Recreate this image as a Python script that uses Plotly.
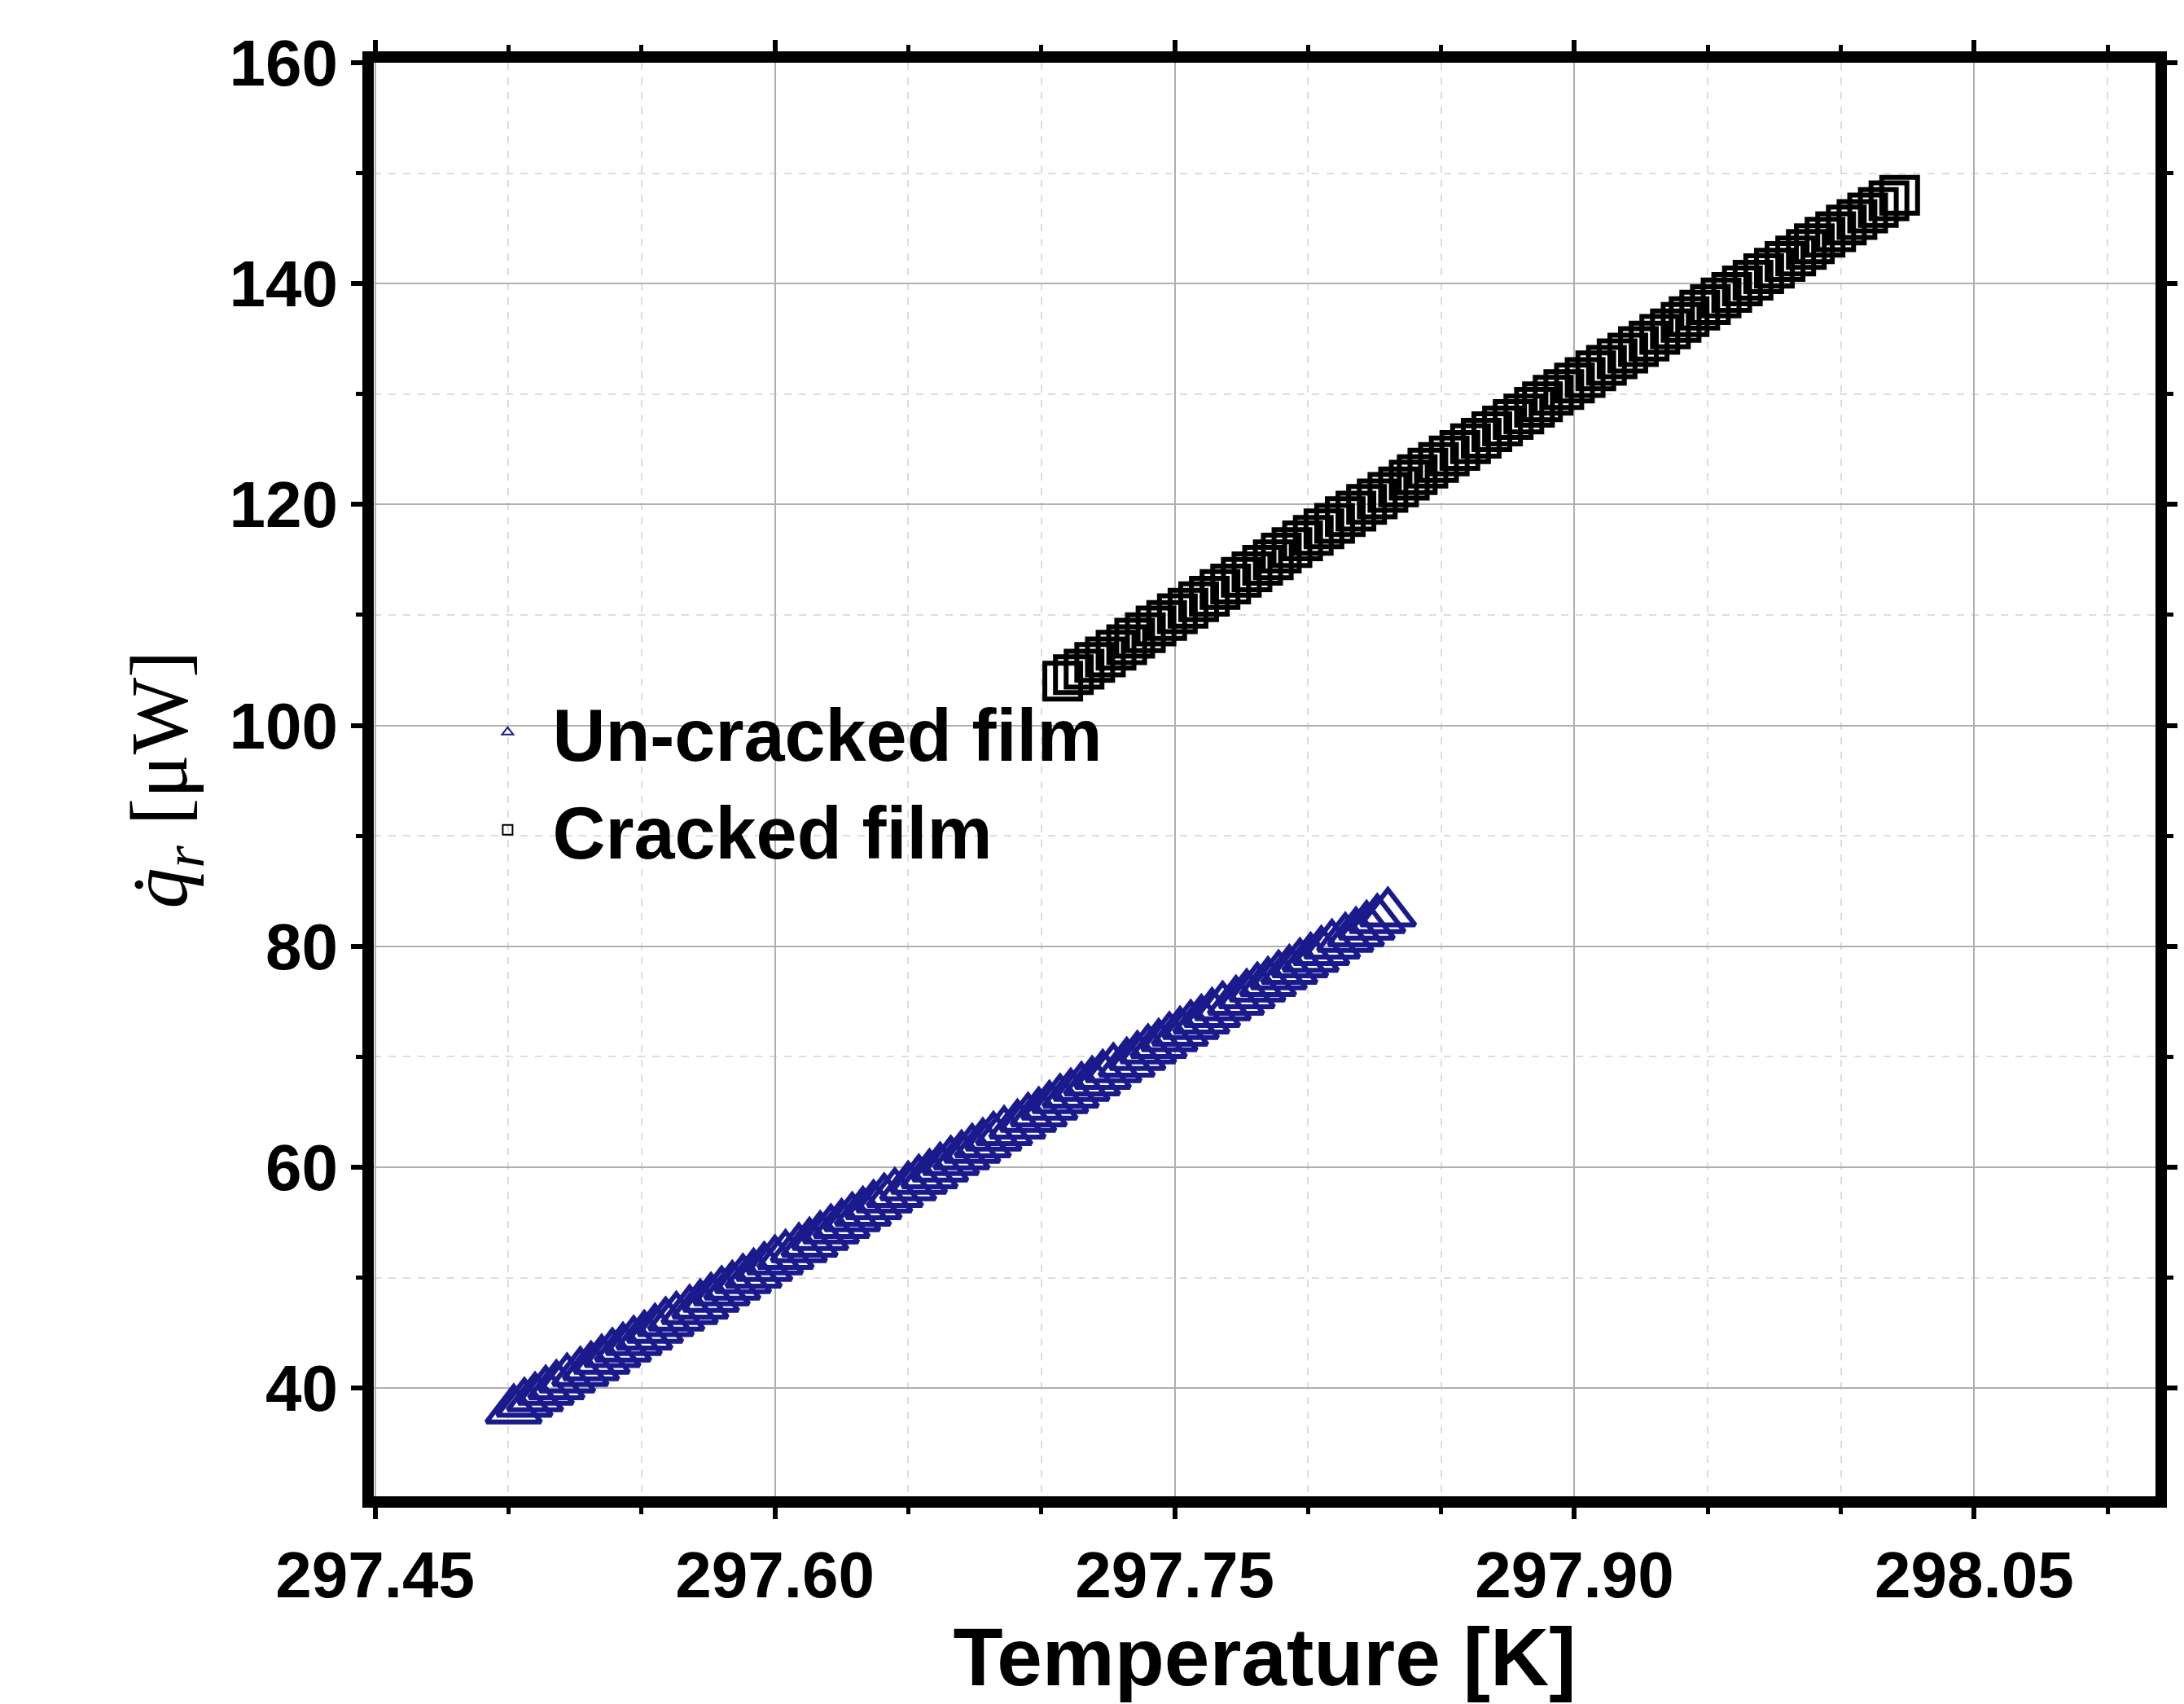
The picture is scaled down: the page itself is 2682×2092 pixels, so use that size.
import plotly.graph_objects as go

unc_x = [297.502,297.506,297.510,297.514,297.518,297.522,297.527,297.531,297.535,297.539,297.543,297.547,297.551,297.555,297.559,297.563,297.568,297.572,297.576,297.580,297.584,297.588,297.592,297.596,297.600,297.604,297.609,297.613,297.617,297.621,297.625,297.629,297.633,297.637,297.641,297.645,297.650,297.654,297.658,297.662,297.666,297.670,297.674,297.678,297.682,297.686,297.691,297.695,297.699,297.703,297.707,297.711,297.715,297.719,297.723,297.727,297.732,297.736,297.740,297.744,297.748,297.752,297.756,297.760,297.764,297.768,297.773,297.777,297.781,297.785,297.789,297.793,297.797,297.801,297.805,297.809,297.814,297.818,297.822,297.826,297.830]
unc_y = [38.0,38.6,39.1,39.7,40.2,40.8,41.4,41.9,42.5,43.1,43.6,44.2,44.7,45.3,45.9,46.4,47.0,47.5,48.1,48.7,49.2,49.8,50.3,50.9,51.5,52.0,52.6,53.1,53.7,54.3,54.8,55.4,55.9,56.5,57.1,57.6,58.2,58.8,59.3,59.9,60.5,61.0,61.6,62.1,62.7,63.2,63.8,64.4,64.9,65.5,66.1,66.6,67.2,67.7,68.3,68.9,69.4,70.0,70.6,71.1,71.7,72.2,72.8,73.3,73.9,74.5,75.0,75.6,76.2,76.7,77.3,77.8,78.4,78.9,79.5,80.1,80.7,81.2,81.8,82.4,83.0]
cr_x = [297.708,297.712,297.716,297.720,297.724,297.728,297.732,297.735,297.739,297.743,297.747,297.751,297.755,297.759,297.763,297.767,297.771,297.775,297.779,297.783,297.787,297.790,297.794,297.798,297.802,297.806,297.810,297.814,297.818,297.822,297.826,297.830,297.834,297.838,297.841,297.845,297.849,297.853,297.857,297.861,297.865,297.869,297.873,297.877,297.881,297.885,297.888,297.892,297.896,297.900,297.904,297.908,297.912,297.916,297.920,297.924,297.928,297.932,297.936,297.940,297.943,297.947,297.951,297.955,297.959,297.963,297.967,297.971,297.975,297.979,297.983,297.987,297.990,297.994,297.998,298.002,298.006,298.010,298.014,298.018,298.022]
cr_y = [104.0,104.6,105.1,105.7,106.2,106.8,107.3,107.9,108.4,109.0,109.5,110.1,110.6,111.2,111.7,112.3,112.8,113.4,113.9,114.5,115.0,115.6,116.1,116.7,117.2,117.8,118.3,118.9,119.4,120.0,120.5,121.1,121.6,122.2,122.7,123.3,123.8,124.4,124.9,125.5,126.0,126.6,127.1,127.7,128.2,128.8,129.3,129.9,130.4,131.0,131.5,132.1,132.6,133.2,133.7,134.3,134.8,135.4,135.9,136.5,137.0,137.6,138.1,138.7,139.2,139.8,140.3,140.9,141.4,142.0,142.5,143.1,143.6,144.2,144.7,145.3,145.8,146.4,146.9,147.5,148.0]
x_ticks = [297.45, 297.60, 297.75, 297.90, 298.05]
x_labels = ["297.45", "297.60", "297.75", "297.90", "298.05"]
y_ticks = [40, 60, 80, 100, 120, 140, 160]

fig = go.Figure()
fig.add_trace(go.Scatter(x=unc_x, y=unc_y, mode="markers", name="Un-cracked film",
    marker=dict(symbol="triangle-up-open", size=58, color="#1a1a8c", line=dict(width=6))))
fig.add_trace(go.Scatter(x=cr_x, y=cr_y, mode="markers", name="Cracked film",
    marker=dict(symbol="square-open", size=44, color="black", line=dict(width=6))))

ax = dict(showline=True, linewidth=14, linecolor="black", mirror="ticks",
          ticks="outside", ticklen=14, tickwidth=6, tickcolor="black",
          gridcolor="#b0b0b0", gridwidth=2, zeroline=False,
          tickfont=dict(size=80, family="Liberation Sans", color="black", weight="bold"),
          minor=dict(showgrid=True, gridcolor="#dddddd", griddash="dash", gridwidth=2, ticks="outside", ticklen=8, tickwidth=5))
fig.update_xaxes(**ax, range=[297.4495, 298.118], tickvals=x_ticks, ticktext=x_labels,
    title=dict(text="Temperature [K]", font=dict(size=100, family="Liberation Sans", color="black", weight="bold"), standoff=25))
fig.update_yaxes(**ax, range=[30.2, 160], tickvals=y_ticks,
    title=dict(text="<i>q̇</i><sub><i>r</i></sub> [μW]", font=dict(size=100, family="Liberation Serif", color="black"), standoff=25))
fig.update_layout(width=2682, height=2092, plot_bgcolor="white", paper_bgcolor="white",
    margin=dict(l=451, r=43, t=69, b=263),
    legend=dict(x=0.05, y=0.57, xanchor="left", yanchor="top", bgcolor="rgba(0,0,0,0)", itemwidth=100,
                font=dict(size=90, family="Liberation Sans", color="black", weight="bold"), itemsizing="constant"))
fig.write_html("out.html")
